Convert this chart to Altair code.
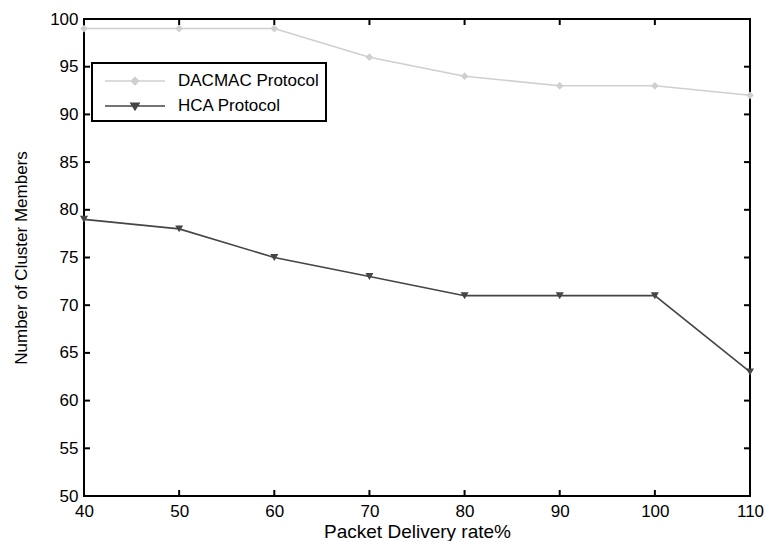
import altair as alt
import pandas as pd

x_vals = [40, 50, 60, 70, 80, 90, 100, 110]
dacmac = [99, 99, 99, 96, 94, 93, 93, 92]
hca = [79, 78, 75, 73, 71, 71, 71, 63]
series_names = ["DACMAC Protocol", "HCA Protocol"]
series_colors = ["#cfcfcf", "#454545"]
series_shapes = ["diamond", "triangle-down"]
x_ticks = [40, 50, 60, 70, 80, 90, 100, 110]
y_ticks = [50, 55, 60, 65, 70, 75, 80, 85, 90, 95, 100]

df = pd.DataFrame({
    "x": x_vals * 2,
    "y": dacmac + hca,
    "series": [series_names[0]] * len(x_vals) + [series_names[1]] * len(x_vals),
})
xt = pd.DataFrame({"x": x_ticks})
yt = pd.DataFrame({"y": y_ticks})

W, H = 666, 477
FONT = "Liberation Sans"
xs = alt.Scale(domain=[40, 110], nice=False, zero=False)
ys = alt.Scale(domain=[50, 100], nice=False, zero=False)
cols = alt.Scale(domain=series_names, range=series_colors)

xaxis = alt.Axis(values=x_ticks, title="Packet Delivery rate%", grid=False, domain=False,
                 ticks=False, labelFontSize=17, labelPadding=7, labelColor="black",
                 labelFlush=False, labelOverlap=False,
                 titleFontSize=19, titleFontWeight="normal", titlePadding=3,
                 titleColor="black", labelFont=FONT, titleFont=FONT)
yaxis = alt.Axis(values=y_ticks, title="Number of Cluster Members", grid=False, domain=False,
                 ticks=False, labelFontSize=17, labelPadding=6, labelColor="black",
                 labelFlush=False, labelOverlap=False,
                 titleFontSize=17, titleFontWeight="normal", titlePadding=19,
                 titleColor="black", labelFont=FONT, titleFont=FONT)

X = alt.X("x:Q", scale=xs, axis=xaxis)
Y = alt.Y("y:Q", scale=ys, axis=yaxis)

layers = []
for name, col, shp, sz in zip(series_names, series_colors, series_shapes, [60, 65]):
    sub = alt.Chart(df).transform_filter(alt.datum.series == name)
    layers.append(sub.mark_line(strokeWidth=1.6, color=col).encode(x=X, y=Y))
    layers.append(sub.mark_point(filled=True, size=sz, opacity=1, shape=shp, color=col).encode(x=X, y=Y))

leg_paths = [
    "M-0.5,0H5.5M2.5,-0.35L2.85,0L2.5,0.35L2.15,0ZM2.5,-0.15L2.65,0L2.5,0.15L2.35,0Z",
    "M-0.5,0H5.5M2.1,-0.28H2.9L2.5,0.38ZM2.3,-0.15H2.7L2.5,0.15Z",
]
legend_def = alt.Legend(
    title=None, orient="none", legendX=8, legendY=44,
    symbolSize=400, symbolOpacity=1, symbolStrokeWidth=1.6,
    labelFontSize=17, labelFont=FONT, labelColor="black",
    labelOffset=57, padding=7, rowPadding=6,
    strokeColor="black",
)
legend_layer = alt.Chart(df).transform_filter(
    alt.datum.x < 0
).mark_point(filled=False, opacity=1).encode(
    x=X, y=Y,
    color=alt.Color("series:N", scale=cols, legend=legend_def),
    shape=alt.Shape("series:N", scale=alt.Scale(domain=series_names, range=leg_paths), legend=legend_def),
)
layers.append(legend_layer)

tick_len = 6
layers.append(alt.Chart(xt).mark_rule(color="black", strokeWidth=2).encode(
    x=X, y=alt.value(H), y2=alt.value(H - tick_len)))
layers.append(alt.Chart(xt).mark_rule(color="black", strokeWidth=2).encode(
    x=X, y=alt.value(0), y2=alt.value(tick_len)))
layers.append(alt.Chart(yt).mark_rule(color="black", strokeWidth=2).encode(
    y=Y, x=alt.value(0), x2=alt.value(tick_len)))
layers.append(alt.Chart(yt).mark_rule(color="black", strokeWidth=2).encode(
    y=Y, x=alt.value(W), x2=alt.value(W - tick_len)))

chart = alt.layer(*layers).properties(
    width=W, height=H,
    autosize=alt.AutoSizeParams(type="none"),
    padding={"left": 84, "top": 19, "right": 16, "bottom": 45},
    background="white",
).configure_view(stroke="black", strokeWidth=2).configure_legend(strokeWidth=2)

chart.save("out.html", embed_options={"renderer": "svg", "actions": False})
